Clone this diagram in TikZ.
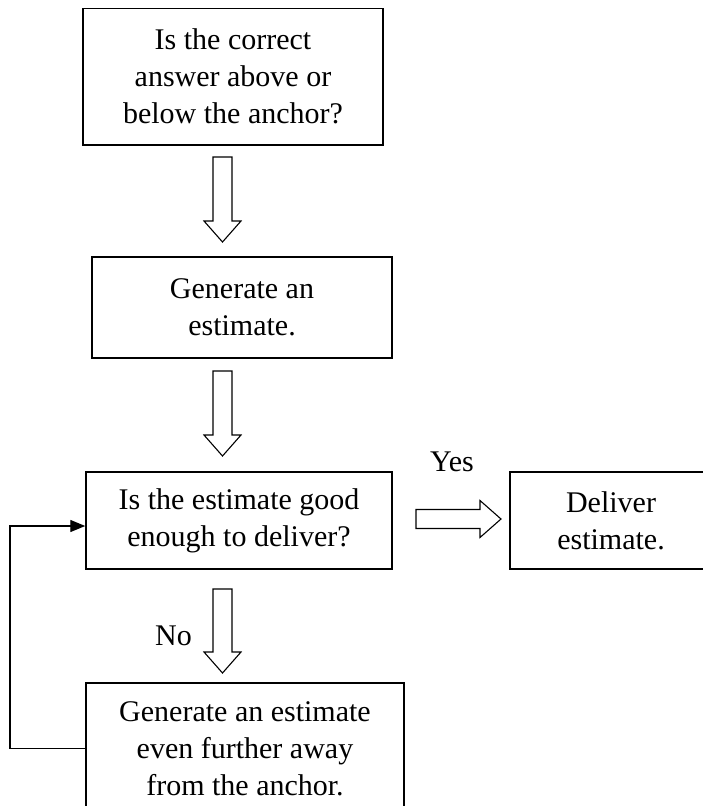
\documentclass[tikz,border=0pt]{standalone}
\usepackage{fontspec}
\setmainfont{Liberation Serif}
\usetikzlibrary{arrows.meta,calc}
\newcommand{\varrowdraw}[2]{%
  \draw[blockarr] let \p1=(#1), \p2=(#2) in
    (\x1-9.5pt,\y1) -- (\x1-9.5pt,\y2+21pt) -- (\x1-18.5pt,\y2+21pt) -- (\x2,\y2)
    -- (\x1+18.5pt,\y2+21pt) -- (\x1+9.5pt,\y2+21pt) -- (\x1+9.5pt,\y1) -- cycle;}
\newcommand{\harrowdraw}[2]{%
  \draw[blockarr] let \p1=(#1), \p2=(#2) in
    (\x1,\y1+9.5pt) -- (\x2-21pt,\y1+9.5pt) -- (\x2-21pt,\y1+18.5pt) -- (\x2,\y2)
    -- (\x2-21pt,\y1-18.5pt) -- (\x2-21pt,\y1-9.5pt) -- (\x1,\y1-9.5pt) -- cycle;}
\begin{document}
\begin{tikzpicture}[x=1pt,y=-1pt,
  box/.style={draw, line width=1.5pt, align=center, inner sep=0pt,
    font=\fontsize{30}{37}\selectfont},
  blockarr/.style={draw, line width=1.1pt, fill=white, line join=miter},
  lbl/.style={font=\fontsize{30}{37}\selectfont, inner sep=0pt, anchor=base west},
  fbline/.style={draw, line width=1.4pt, line join=miter, -{Triangle[length=15pt,width=12pt]}}]
\useasboundingbox[fill=white] (0,0) rectangle (702,806);

\node[box, minimum width=300pt, minimum height=136.5pt] (b1) at (233,76.75)
  {Is the correct\\answer above or\\below the anchor?};
\node[box, minimum width=300pt, minimum height=101pt] (b2) at (242,307.5)
  {Generate an\\estimate.};
\node[box, minimum width=306pt, minimum height=97pt] (b3) at (239,520.5)
  {Is the estimate good\\enough to deliver?};
\node[box, minimum width=202pt, minimum height=97pt] (b4) at (611,520.5)
  {Deliver\\estimate.};
\node[box, minimum width=318pt, minimum height=131.5pt] (b5) at (245,748.75)
  {Generate an estimate\\even further away\\from the anchor.};

\coordinate (a1t) at (222.5,157);
\coordinate (a1h) at (222.5,242);
\coordinate (a2t) at (222.5,371);
\coordinate (a2h) at (222.5,456);
\coordinate (a3t) at (222.5,589);
\coordinate (a3h) at (222.5,673);
\coordinate (a4t) at (416,519);
\coordinate (a4h) at (501,519);
\varrowdraw{a1t}{a1h}
\varrowdraw{a2t}{a2h}
\varrowdraw{a3t}{a3h}
\harrowdraw{a4t}{a4h}

\node[lbl] (yes) at (430,471) {Yes};
\node[lbl] (no) at (155,645) {No};

\coordinate (fbc) at (10,526);
\draw[fbline] (b5.west) -| (fbc) -- (fbc -| b3.west);
\end{tikzpicture}
\end{document}
